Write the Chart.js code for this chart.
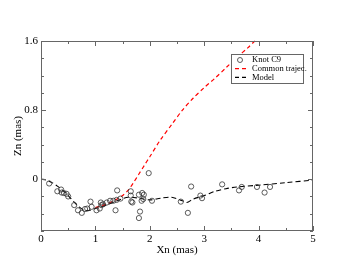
<!DOCTYPE html>
<html>
<head>
<meta charset="utf-8">
<script src="https://cdn.jsdelivr.net/npm/chart.js@4/dist/chart.umd.min.js"></script>
<style>
  html, body { margin: 0; padding: 0; background: #fff; }
  #wrap { width: 353px; height: 273px; }
</style>
</head>
<body>
<div id="wrap"><canvas id="chart" width="353" height="273"></canvas></div>
<script>
// knot C9 positions (mas)
const knotX = [0.15, 0.30, 0.37, 0.38, 0.42, 0.47, 0.50, 0.61, 0.68, 0.75, 0.81, 0.85, 0.91, 0.93,
  1.02, 1.08, 1.10, 1.11, 1.14, 1.21, 1.27, 1.33, 1.37, 1.39, 1.40, 1.46, 1.65, 1.66, 1.68, 1.65,
  1.80, 1.82, 1.80, 1.86, 1.89, 1.88, 1.85, 1.98, 2.04, 2.57, 2.76, 2.70, 2.93, 2.96, 3.33, 3.64,
  3.69, 3.97, 4.11, 4.21];
const knotZ = [-0.05, -0.14, -0.12, -0.155, -0.16, -0.17, -0.20, -0.30, -0.36, -0.39, -0.345, -0.34, -0.26, -0.32,
  -0.36, -0.34, -0.27, -0.30, -0.29, -0.27, -0.25, -0.25, -0.36, -0.24, -0.13, -0.225, -0.14, -0.26, -0.27, -0.19,
  -0.18, -0.375, -0.45, -0.16, -0.18, -0.23, -0.25, 0.07, -0.25, -0.26, -0.085, -0.39, -0.19, -0.22, -0.06, -0.13,
  -0.09, -0.09, -0.155, -0.09];

// common trajectory
const trajX = [1.0, 1.2, 1.4, 1.5, 1.6, 1.7, 1.8, 1.9, 2.0, 2.2, 2.4, 2.6, 2.8, 3.0, 3.2, 3.4, 3.6, 3.8, 3.93];
const trajZ = [-0.33, -0.29, -0.23, -0.19, -0.13, -0.04, 0.06, 0.16, 0.26, 0.46, 0.63, 0.80, 0.94, 1.06, 1.17, 1.29, 1.41, 1.52, 1.6];

// model
const modelX = [0, 0.1, 0.2, 0.3, 0.4, 0.5, 0.6, 0.7, 0.8, 0.9, 1.0, 1.2, 1.4, 1.6, 1.8, 2.0, 2.2, 2.4, 2.6, 2.68,
  2.8, 3.0, 3.2, 3.4, 3.6, 4.0, 4.5, 5.0];
const modelZ = [0, -0.01, -0.04, -0.08, -0.13, -0.19, -0.26, -0.32, -0.36, -0.36, -0.34, -0.30, -0.25, -0.21, -0.22, -0.24, -0.22, -0.21, -0.25, -0.27,
  -0.23, -0.19, -0.14, -0.11, -0.09, -0.07, -0.04, -0.01];

const xLabels = ['0', '1', '2', '3', '4', '5'];
const yLabels = ['0', '0.8', '1.6'];

const seriesNames = ['Knot C9', 'Common trajec.', 'Model'];

function pairs(xs, ys) {
  return xs.map((x, i) => ({ x: x, y: ys[i] }));
}

const serif = "'Liberation Serif', 'DejaVu Serif', serif";

// inward ticks on all four sides + frame
const frameTicks = {
  id: 'frameTicks',
  afterDraw(chart) {
    const ctx = chart.ctx;
    const a = chart.chartArea;
    const xs = chart.scales.x, ys = chart.scales.y;
    ctx.save();
    ctx.strokeStyle = '#666';
    ctx.lineWidth = 1;
    ctx.strokeRect(a.left + 0.5, a.top + 0.5, a.right - a.left - 1, a.bottom - a.top - 1);
    ctx.beginPath();
    xs.ticks.forEach(t => {
      const px = Math.round(xs.getPixelForValue(t.value)) + 0.5;
      const len = Math.abs(t.value - Math.round(t.value)) < 1e-6 ? 5 : 3;
      ctx.moveTo(px, a.bottom); ctx.lineTo(px, a.bottom - len);
      ctx.moveTo(px, a.top); ctx.lineTo(px, a.top + len);
    });
    ys.ticks.forEach(t => {
      const py = Math.round(ys.getPixelForValue(t.value)) + 0.5;
      const major = Math.abs(t.value / 0.8 - Math.round(t.value / 0.8)) < 1e-6;
      const len = major ? 5 : 3;
      ctx.moveTo(a.left, py); ctx.lineTo(a.left + len, py);
      ctx.moveTo(a.right, py); ctx.lineTo(a.right - len, py);
    });
    ctx.stroke();
    ctx.restore();
  }
};

// legend box inside the plot
const boxLegend = {
  id: 'boxLegend',
  afterDraw(chart) {
    const ctx = chart.ctx;
    const x0 = 231, y0 = 54, w = 72, h = 29;
    ctx.save();
    ctx.fillStyle = '#fff';
    ctx.fillRect(x0, y0, w, h);
    ctx.strokeStyle = '#666';
    ctx.lineWidth = 1;
    ctx.strokeRect(x0 + 0.5, y0 + 0.5, w, h);
    ctx.font = '8.5px ' + serif;
    ctx.textBaseline = 'middle';
    ctx.fillStyle = '#000';
    const rows = [60, 68.7, 77.4];
    chart.data.datasets.forEach((ds, i) => {
      const yy = rows[i];
      if (i === 0) {
        ctx.beginPath();
        ctx.strokeStyle = '#333';
        ctx.lineWidth = 0.8;
        ctx.arc(240, yy, 2.5, 0, Math.PI * 2);
        ctx.stroke();
      } else {
        ctx.beginPath();
        ctx.strokeStyle = ds.borderColor;
        ctx.lineWidth = 1.2;
        ctx.setLineDash([4, 3]);
        ctx.moveTo(235, yy); ctx.lineTo(248, yy);
        ctx.stroke();
        ctx.setLineDash([]);
      }
      ctx.fillStyle = '#000';
      ctx.fillText(ds.label, 252, yy);
    });
    ctx.restore();
  }
};

const ctx = document.getElementById('chart').getContext('2d');

new Chart(ctx, {
  type: 'scatter',
  data: {
    datasets: [{
      label: seriesNames[0],
      data: pairs(knotX, knotZ),
      pointStyle: 'circle',
      pointRadius: 2.6,
      pointBorderWidth: 0.8,
      pointBorderColor: '#333',
      pointBackgroundColor: 'rgba(0,0,0,0)',
      showLine: false,
      order: 1
    }, {
      label: seriesNames[1],
      data: pairs(trajX, trajZ),
      showLine: true,
      borderColor: '#ff0000',
      borderWidth: 1.2,
      borderDash: [4, 3],
      pointRadius: 0,
      tension: 0.3,
      order: 2
    }, {
      label: seriesNames[2],
      data: pairs(modelX, modelZ),
      showLine: true,
      borderColor: '#000',
      borderWidth: 1.1,
      borderDash: [5, 3],
      pointRadius: 0,
      tension: 0.3,
      order: 3
    }]
  },
  options: {
    responsive: false,
    animation: false,
    clip: false,
    layout: { padding: { left: 0, right: 40, top: 41, bottom: 16 } },
    plugins: {
      legend: { display: false },
      tooltip: { enabled: false }
    },
    scales: {
      x: {
        type: 'linear',
        min: 0,
        max: 5,
        afterFit: function(scale) { scale.height = 26; },
        grid: { display: false, drawTicks: false },
        border: { display: false },
        ticks: {
          stepSize: 0.5,
          padding: 2,
          color: '#000',
          font: { family: serif, size: 11 },
          callback: function(v) {
            const i = Math.round(v);
            return Math.abs(v - i) < 1e-6 ? xLabels[i] : '';
          }
        },
        title: {
          display: true,
          text: 'Xn (mas)',
          color: '#000',
          font: { family: serif, size: 11 },
          padding: { top: 0, bottom: 0 }
        }
      },
      y: {
        type: 'linear',
        min: -0.6,
        max: 1.6,
        afterFit: function(scale) { scale.width = 41; },
        grid: { display: false, drawTicks: false },
        border: { display: false },
        ticks: {
          stepSize: 0.2,
          padding: 3,
          color: '#000',
          font: { family: serif, size: 11 },
          callback: function(v) {
            const k = Math.round(v / 0.8);
            return (Math.abs(v / 0.8 - k) < 1e-6 && k >= 0) ? yLabels[k] : '';
          }
        },
        title: {
          display: true,
          text: 'Zn (mas)',
          color: '#000',
          font: { family: serif, size: 11 },
          padding: { top: 12, bottom: 0 }
        }
      }
    }
  },
  plugins: [frameTicks, boxLegend]
});
</script>
</body>
</html>
